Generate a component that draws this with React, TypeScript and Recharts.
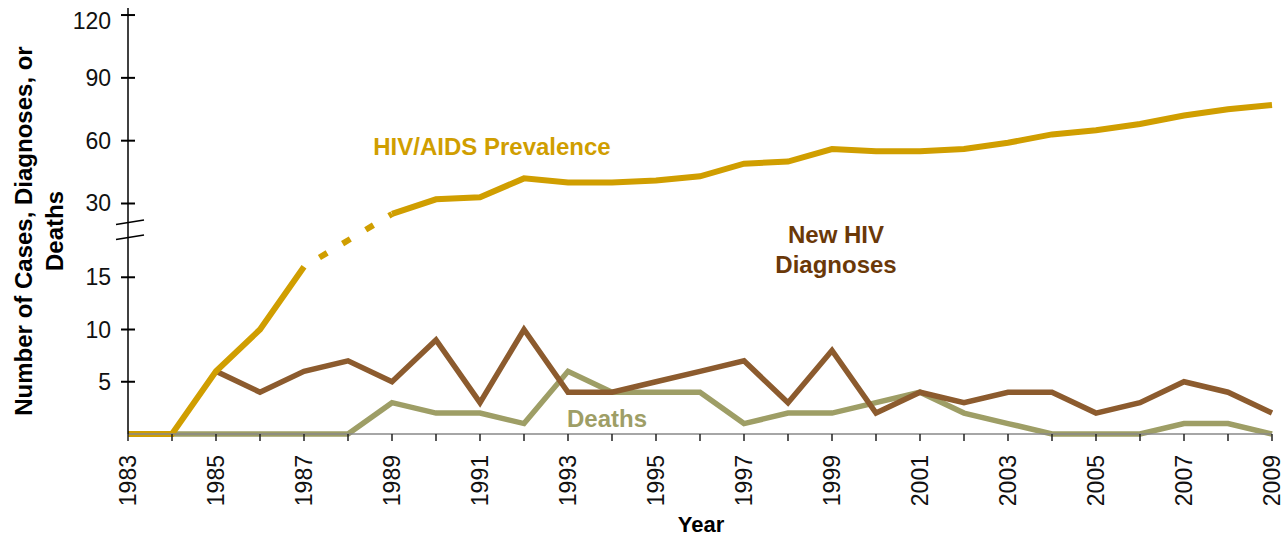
import { LineChart, Line, XAxis, YAxis } from 'recharts'

const years = [
  1983, 1984, 1985, 1986, 1987, 1988, 1989, 1990, 1991, 1992, 1993, 1994, 1995,
  1996, 1997, 1998, 1999, 2000, 2001, 2002, 2003, 2004, 2005, 2006, 2007, 2008, 2009
]
// 1988 is missing; 1987 -> 1989 gets a dashed connector
const prevalence = [
  0, 0, 6, 10, 16, null, 25, 32, 33, 42, 40, 40, 41, 43, 49, 50, 56, 55, 55, 56,
  59, 63, 65, 68, 72, 75, 77
]
const diagnoses = [
  null, null, 6, 4, 6, 7, 5, 9, 3, 10, 4, 4, 5, 6, 7, 3, 8, 2, 4, 3, 4, 4, 2, 3,
  5, 4, 2
]
const deaths = [
  0, 0, 0, 0, 0, 0, 3, 2, 2, 1, 6, 4, 4, 4, 1, 2, 2, 3, 4, 2, 1, 0, 0, 0, 1, 1, 0
]
const yTicks = [5, 10, 15, 30, 60, 90, 120]
const labeledYears = years.filter((y) => y % 2 === 1)

const GOLD = '#D09E00'
const BROWN = '#8C5B2E'
const BROWN_TEXT = '#6A3808'
const OLIVE = '#9E9E66'
const FONT = '"Liberation Sans", Arial, sans-serif'

// broken axis: 0-20 linear, above that compressed (30..120)
function brk(v: number | null) {
  if (v == null) return null
  return v <= 20.07 ? v : 22.06 + (v - 30) * 0.2004
}

const rows = years.map((year, i) => {
  const prev = prevalence[i]
  const before = prevalence[i - 1]
  const after = prevalence[i + 1]
  const bridging =
    (prev != null && after === null) || (prev != null && before === null)
  return {
    year,
    prevalence: prev,
    bridge: bridging ? prev : null,
    diagnoses: diagnoses[i],
    deaths: deaths[i]
  }
})

function YTick(props: any) {
  const { x, y, payload } = props
  const label = yTicks.find((t) => Math.abs((brk(t) as number) - payload.value) < 1e-6)
  // top label sits a little low so it isn't clipped
  const dy = label === 120 ? 6 : 0
  return (
    <g>
      <line x1={x - 7} x2={x + 7} y1={y} y2={y} stroke="#000" strokeWidth={2} />
      <text
        x={x - 17}
        y={y + dy}
        textAnchor="end"
        dominantBaseline="central"
        fontSize={23}
        fill="#111"
        fontFamily={FONT}
      >
        {label}
      </text>
      {label === 30 && (
        <g stroke="#000" strokeWidth={1.5}>
          <line x1={x - 12} y1={y + 21} x2={x + 16} y2={y + 16.5} />
          <line x1={x - 12} y1={y + 36} x2={x + 16} y2={y + 31.5} />
        </g>
      )}
    </g>
  )
}

function XTick(props: any) {
  const { x, payload } = props
  if (!labeledYears.includes(payload.value)) return <g />
  const ty = 455
  return (
    <text
      x={x}
      y={ty}
      textAnchor="end"
      dominantBaseline="central"
      transform={`rotate(-90, ${x}, ${ty})`}
      fontSize={23}
      fill="#111"
      fontFamily={FONT}
    >
      {payload.value}
    </text>
  )
}

export default function App() {
  return (
    <div style={{ position: 'relative', width: 1286, height: 536 }}>
      <style>{'body{margin:0}'}</style>
      <LineChart
        width={1286}
        height={536}
        data={rows}
        margin={{ top: 8, right: 14, bottom: 0, left: 0 }}
      >
        <XAxis
          dataKey="year"
          type="number"
          domain={[1983, 2009]}
          ticks={years}
          interval={0}
          height={102}
          tickSize={7}
          tickLine={{ stroke: '#222', strokeWidth: 1.5 }}
          axisLine={{ stroke: '#888', strokeWidth: 1.5 }}
          tick={<XTick />}
        />
        <YAxis
          type="number"
          domain={[0, 40.77]}
          ticks={yTicks.map((t) => brk(t) as number)}
          width={128}
          tickSize={0}
          tickMargin={0}
          tickLine={false}
          axisLine={{ stroke: '#000', strokeWidth: 1.5 }}
          tick={<YTick />}
        />
        <Line
          dataKey={(d: any) => brk(d.deaths)}
          stroke={OLIVE}
          strokeWidth={5.5}
          dot={false}
          activeDot={false}
          isAnimationActive={false}
        />
        <Line
          dataKey={(d: any) => brk(d.diagnoses)}
          stroke={BROWN}
          strokeWidth={5.5}
          dot={false}
          activeDot={false}
          isAnimationActive={false}
        />
        <Line
          dataKey={(d: any) => brk(d.bridge)}
          stroke={GOLD}
          strokeWidth={6}
          strokeDasharray="0 18 9 0"
          connectNulls
          dot={false}
          activeDot={false}
          isAnimationActive={false}
        />
        <Line
          dataKey={(d: any) => brk(d.prevalence)}
          stroke={GOLD}
          strokeWidth={6}
          dot={false}
          activeDot={false}
          isAnimationActive={false}
        />
      </LineChart>
      <svg
        width={1286}
        height={536}
        style={{ position: 'absolute', left: 0, top: 0, pointerEvents: 'none' }}
        fontFamily={FONT}
        fontWeight="bold"
      >
        <text x={32} y={231} textAnchor="middle" fontSize={24} fill="#000" transform="rotate(-90, 32, 231)">
          Number of Cases, Diagnoses, or
        </text>
        <text x={63} y={231} textAnchor="middle" fontSize={24} fill="#000" transform="rotate(-90, 63, 231)">
          Deaths
        </text>
        <text x={701} y={532} textAnchor="middle" fontSize={22} fill="#000">
          Year
        </text>
        <text x={492} y={155} textAnchor="middle" fontSize={24} fill={GOLD}>
          HIV/AIDS Prevalence
        </text>
        <text x={836} y={243} textAnchor="middle" fontSize={24} fill={BROWN_TEXT}>
          New HIV
        </text>
        <text x={836} y={273} textAnchor="middle" fontSize={24} fill={BROWN_TEXT}>
          Diagnoses
        </text>
        <text x={607} y={427} textAnchor="middle" fontSize={24} fill={OLIVE}>
          Deaths
        </text>
      </svg>
    </div>
  )
}
